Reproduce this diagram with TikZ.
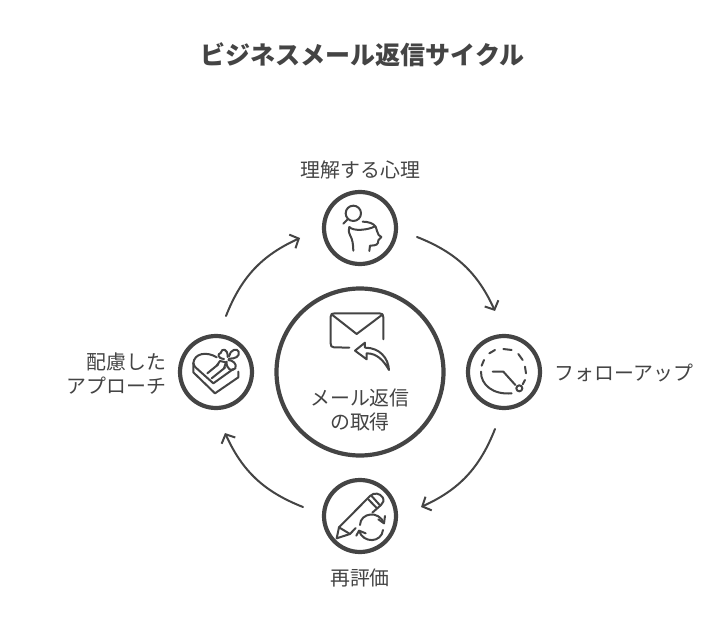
\documentclass[tikz,border=0pt]{standalone}
\usepackage{fontspec}
\setmainfont{Noto Sans CJK JP}
\usetikzlibrary{arrows.meta}
\definecolor{ink}{HTML}{444444}
\tikzset{
  hub/.style={circle,draw=ink,line width=4.2pt,fill=white,minimum size=#1,inner sep=0pt},
  lab/.style={text=ink,font=\fontsize{19.9}{24}\selectfont,align=center,inner sep=0pt},
  cyc/.style={draw=ink,line width=2pt,line cap=round,-{Straight Barb[length=7pt,width=15pt,line width=2pt]},bend left=22},
  ico/.style={draw=ink,line width=2pt,line cap=round,line join=round},
  zoomed/.style={x=0.3333pt,y=-0.3333pt}
}
\begin{document}
\begin{tikzpicture}[x=1pt,y=-1pt]
\useasboundingbox (0,0) rectangle (720,636);
\fill[white] (0,0) rectangle (720,636);
\node[text=ink,font=\fontsize{25}{30}\selectfont\bfseries,inner sep=0pt] (title) at (362.5,55) {ビジネスメール返信サイクル};

\node[hub=167pt] (centre) at (360,372) {};
\node[hub=72pt] (top) at (360,228) {};
\node[hub=72pt] (right) at (504,372) {};
\node[hub=72pt] (bottom) at (360,516) {};
\node[hub=72pt] (left) at (216,372) {};

\node[lab] (ltop) at (360.5,169.5) {理解する心理};
\node[lab] (lright) at (624,373) {フォローアップ};
\node[lab] (lbottom) at (360,577.5) {再評価};
\node[lab,align=right,anchor=east] (lleft) at (166.5,373.5) {配慮した\\アプローチ};
\node[lab] (lcentre) at (360,409.5) {メール返信\\の取得};

\coordinate (a1) at (417,237); \coordinate (a2) at (495,311);
\coordinate (b1) at (495,429); \coordinate (b2) at (421,507);
\coordinate (c1) at (303,507); \coordinate (c2) at (225,433);
\coordinate (d1) at (226,316); \coordinate (d2) at (300,238);
\draw[cyc] (a1) to (a2);
\draw[cyc] (b1) to (b2);
\draw[cyc] (c1) to (c2);
\draw[cyc] (d1) to (d2);

% envelope
\begin{scope}[shift={(320,300)},zoomed]
\draw[ico] (88,143) -- (42,142) .. controls (34,142) and (32,138) .. (32,130) -- (32,50) .. controls (32,42) and (36,40) .. (44,40) -- (178,40) .. controls (187,40) and (190,43) .. (190,52) -- (190,118);
\draw[ico] (36,44) -- (110,102) -- (187,44);
\draw[ico] (207,210) .. controls (205,175) and (180,143) .. (135,143) -- (135,128) -- (105,152) -- (140,178) -- (140,160) .. controls (170,160) and (190,180) .. (207,210);
\end{scope}

% head and magnifier
\begin{scope}[shift={(310,185)},zoomed]
\draw[ico] (130,85) circle [radius=23];
\draw[ico] (114,102) -- (100,116);
\draw[ico] (130,197) .. controls (129,175) and (128,165) .. (120,150) .. controls (115,140) and (116,132) .. (118,126);
\draw[ico] (118,126) .. controls (130,140) and (175,135) .. (195,124);
\draw[ico] (158,110) .. controls (175,110) and (190,115) .. (197,125) .. controls (200,135) and (202,142) .. (206,150) -- (214,156) -- (205,166) .. controls (205,178) and (200,182) .. (180,182) -- (178,198);
\end{scope}

% clock
\begin{scope}[shift={(460,325)},zoomed]
\draw[ico] (65,122) -- (72,105) (88,85) -- (105,75) (130,72) -- (155,75) (175,87) -- (188,105) (195,125) -- (198,145) (195,165) -- (188,178);
\draw[ico] (63,140) .. controls (62,180) and (100,210) .. (155,205);
\draw[ico] (98,140) -- (130,140) -- (166,180);
\draw[ico] (178,190) circle [radius=9];
\end{scope}

% pencil and cycle
\begin{scope}[shift={(315,470)},zoomed]
\draw[ico] (105,192) -- (65,205) -- (72,172) -- (165,78) .. controls (178,66) and (195,70) .. (203,82) .. controls (208,92) and (205,98) .. (198,105) -- (172,128);
\draw[ico] (72,172) -- (105,192) -- (122,174);
\draw[ico] (160,88) -- (186,115);
\draw[ico] (170,78) -- (195,106);
\draw[ico] (135,165) .. controls (136,128) and (192,120) .. (207,160);
\draw[ico] (190,148) -- (207,160) -- (210,138);
\draw[ico] (204,180) .. controls (200,218) and (145,222) .. (132,182);
\draw[ico] (124,197) -- (132,182) -- (152,190);
\end{scope}

% heart gift box
\begin{scope}[shift={(170,325)},zoomed]
\draw[ico] (70,115) .. controls (72,85) and (110,78) .. (140,97);
\draw[ico] (70,115) -- (70,142) -- (135,205) -- (205,157) -- (205,140);
\draw[ico] (70,115) .. controls (72,122) and (76,128) .. (82,132) -- (130,175) -- (190,132);
\draw[ico] (112,145) -- (145,118);
\draw[ico] (125,160) -- (165,128);
\draw[ico] (140,122) -- (150,108) -- (168,112) -- (162,130);
\draw[ico] (162,102) .. controls (142,100) and (142,86) .. (152,84) .. controls (155,68) and (174,70) .. (173,96);
\draw[ico] (177,94) .. controls (180,74) and (202,68) .. (206,80) .. controls (210,94) and (196,102) .. (177,101);
\draw[ico] (175,105) .. controls (188,106) and (202,116) .. (196,130) .. controls (186,142) and (168,132) .. (170,110);
\end{scope}
\end{tikzpicture}
\end{document}
